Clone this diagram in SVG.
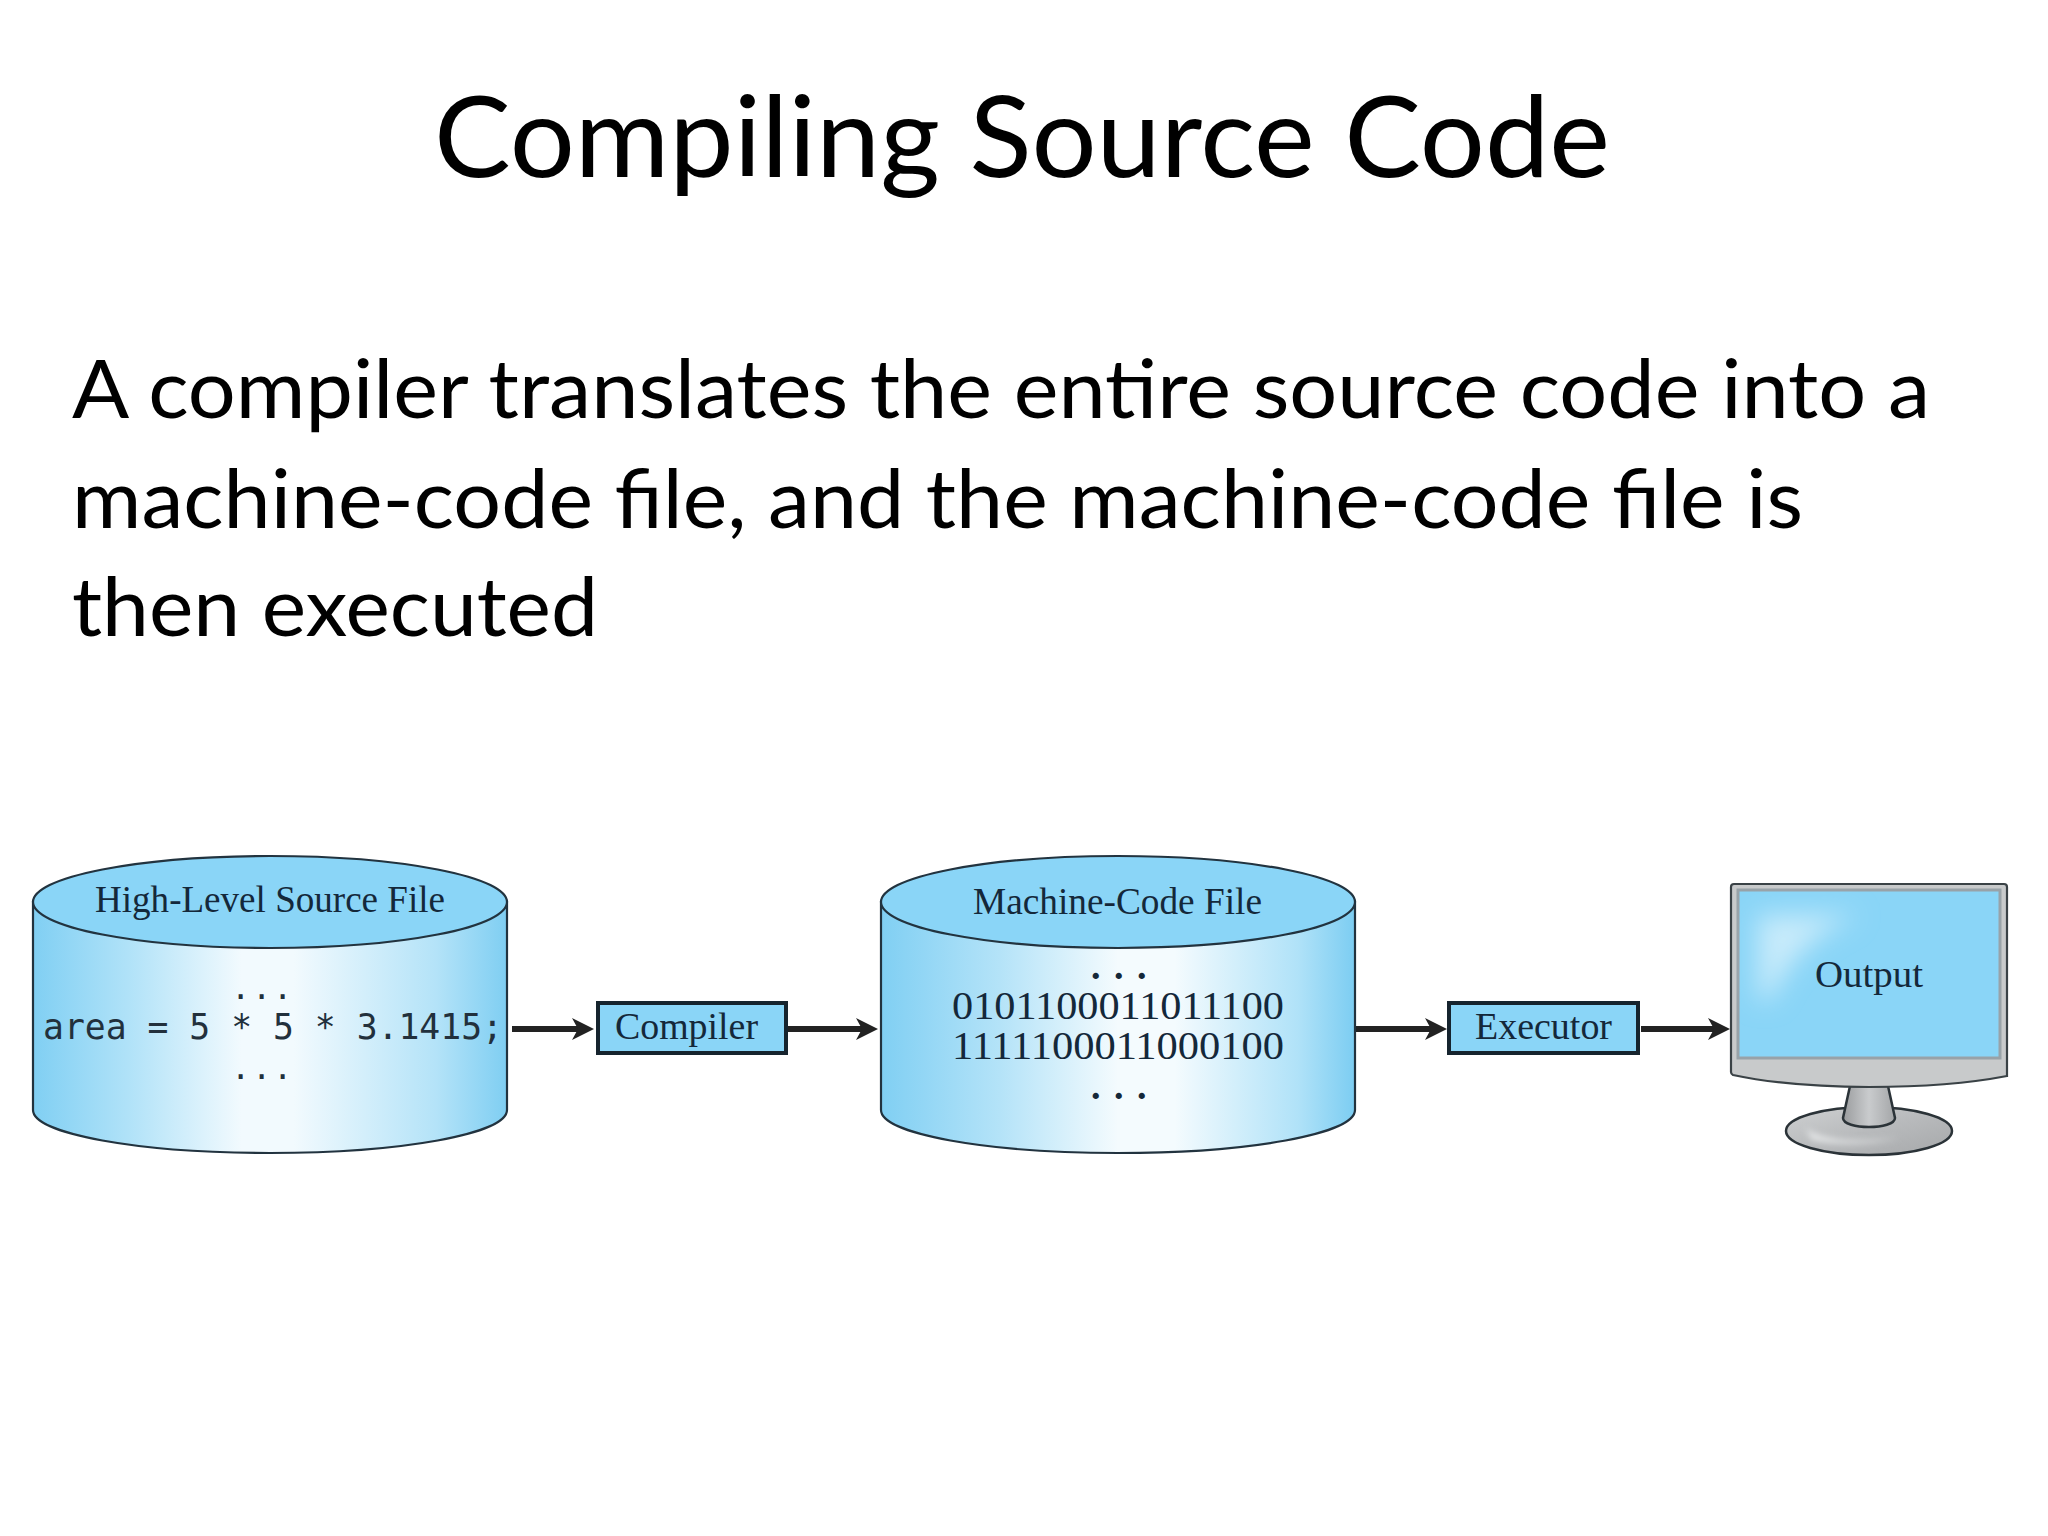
<svg xmlns="http://www.w3.org/2000/svg" width="2048" height="1536" viewBox="0 0 2048 1536">
<style>
.slide{font-family:"Lato","Noto Sans",sans-serif;fill:#000}
.title{font-size:112px}
.body{font-size:82px}
.s{font-family:"Liberation Serif","Times New Roman",serif;fill:#14283a}
.m{font-family:"DejaVu Sans Mono","Liberation Mono",monospace;fill:#22303c}
.edge{stroke:#22333f;stroke-width:2.2}
.top{fill:#8ad5f7}
.box{fill:#8ad5f7;stroke:#16242e;stroke-width:4}
.wire{stroke:#222;stroke-width:6;fill:none;marker-end:url(#head)}
</style>
<defs>
<linearGradient id="g1" x1="0" x2="1" y1="0" y2="0"><stop offset="0" stop-color="#80cff3"/><stop offset=".2" stop-color="#b0e2f8"/><stop offset=".44" stop-color="#f2fafe"/><stop offset=".55" stop-color="#f2fafe"/><stop offset=".85" stop-color="#b4e3f8"/><stop offset="1" stop-color="#7fcef2"/></linearGradient>
<linearGradient id="g2" x1="0" x2="1" y1="0" y2="0"><stop offset="0" stop-color="#80cff3"/><stop offset=".25" stop-color="#b4e3f8"/><stop offset=".5" stop-color="#f4fbfe"/><stop offset=".62" stop-color="#f4fbfe"/><stop offset=".88" stop-color="#b0e2f8"/><stop offset="1" stop-color="#7ccdf2"/></linearGradient>
<linearGradient id="neck" x1="0" x2="1" y1="0" y2="0"><stop offset="0" stop-color="#9a9c9e"/><stop offset=".5" stop-color="#c9cbcd"/><stop offset="1" stop-color="#a4a6a8"/></linearGradient>
<linearGradient id="base" x1="0" x2="1" y1="0" y2="1"><stop offset="0" stop-color="#cfd1d2"/><stop offset=".5" stop-color="#b8babc"/><stop offset="1" stop-color="#a6a8aa"/></linearGradient>
<filter id="blur" x="-40%" y="-40%" width="180%" height="180%"><feGaussianBlur stdDeviation="13"/></filter>
<filter id="blur2" x="-40%" y="-100%" width="180%" height="300%"><feGaussianBlur stdDeviation="3"/></filter>
<marker id="head" markerUnits="userSpaceOnUse" markerWidth="24" markerHeight="22" refX="6" refY="11" orient="auto"><path d="M0 0L22 11L0 22L6 11Z" fill="#222"/></marker>
</defs>
<rect width="2048" height="1536" fill="#fff"/>
<text class="slide title" x="1022" y="177" text-anchor="middle" textLength="1176" lengthAdjust="spacingAndGlyphs">Compiling Source Code</text>
<g class="slide body">
<text x="72" y="418" textLength="1858" lengthAdjust="spacingAndGlyphs">A compiler translates the entire source code into a</text>
<text x="72" y="528" textLength="1731" lengthAdjust="spacingAndGlyphs">machine-code file, and the machine-code file is</text>
<text x="72" y="636" textLength="526" lengthAdjust="spacingAndGlyphs">then executed</text>
</g>
<g id="connectors">
<path class="wire" d="M512 1029H578"/>
<path class="wire" d="M788 1029H862"/>
<path class="wire" d="M1356 1029H1431"/>
<path class="wire" d="M1641 1029H1714"/>
</g>
<g id="source-file">
<path class="edge" fill="url(#g1)" d="M33 902V1110C33 1134 139 1153 270 1153S507 1134 507 1110V902Z"/>
<ellipse class="edge top" cx="270" cy="902" rx="237" ry="46"/>
<text class="s" x="95" y="912" font-size="37" textLength="350" lengthAdjust="spacingAndGlyphs">High-Level Source File</text>
<text class="m" x="231 252 273" y="999" font-size="32">...</text>
<text class="m" x="43" y="1039" font-size="35" textLength="460" lengthAdjust="spacingAndGlyphs">area = 5 * 5 * 3.1415;</text>
<text class="m" x="231 252 273" y="1079" font-size="32">...</text>
</g>
<g id="compiler">
<rect class="box" x="598" y="1003" width="188" height="50"/>
<text class="s" x="615" y="1039" font-size="37" textLength="143" lengthAdjust="spacingAndGlyphs">Compiler</text>
</g>
<g id="machine-code-file">
<path class="edge" fill="url(#g2)" d="M881 902V1110C881 1134 987 1153 1118 1153S1355 1134 1355 1110V902Z"/>
<ellipse class="edge top" cx="1118" cy="902" rx="237" ry="46"/>
<text class="s" x="973" y="914" font-size="37" textLength="289" lengthAdjust="spacingAndGlyphs">Machine-Code File</text>
<text class="s" x="1091 1114 1137" y="979" font-size="38" font-weight="bold">...</text>
<text class="s" font-size="40"><tspan x="952" y="1019" textLength="332" lengthAdjust="spacingAndGlyphs">0101100011011100</tspan><tspan x="952" y="1059" textLength="332" lengthAdjust="spacingAndGlyphs">1111100011000100</tspan></text>
<text class="s" x="1091 1114 1137" y="1099" font-size="38" font-weight="bold">...</text>
</g>
<g id="executor">
<rect class="box" x="1449" y="1003" width="189" height="50"/>
<text class="s" x="1475" y="1039" font-size="37" textLength="137" lengthAdjust="spacingAndGlyphs">Executor</text>
</g>
<g id="output">
<ellipse cx="1869" cy="1131" rx="83" ry="24" fill="url(#base)" stroke="#2b3338" stroke-width="2.5"/>
<path d="M1805 1128Q1830 1146 1900 1138Q1850 1148 1812 1140Z" fill="#e4e6e7" filter="url(#blur2)"/>
<path d="M1850 1086L1843 1118C1843 1130 1895 1130 1895 1118L1888 1086Z" fill="url(#neck)" stroke="#2b3338" stroke-width="2.5"/>
<path d="M1731 887Q1731 884 1734 884H2004Q2007 884 2007 887V1076Q1950 1087 1869 1087Q1790 1087 1733 1075Q1731 1074 1731 1072Z" fill="#c8cacb" stroke="#3a4246" stroke-width="2.2"/>
<rect x="1738" y="890" width="262" height="168" fill="#8ad5f7" stroke="#98a2a8" stroke-width="3"/>
<path d="M1758 915H1860Q1800 935 1770 1000H1758Z" fill="#c8ebfb" filter="url(#blur)"/>
<text class="s" x="1815" y="987" font-size="37" textLength="108" lengthAdjust="spacingAndGlyphs">Output</text>
</g>
</svg>
